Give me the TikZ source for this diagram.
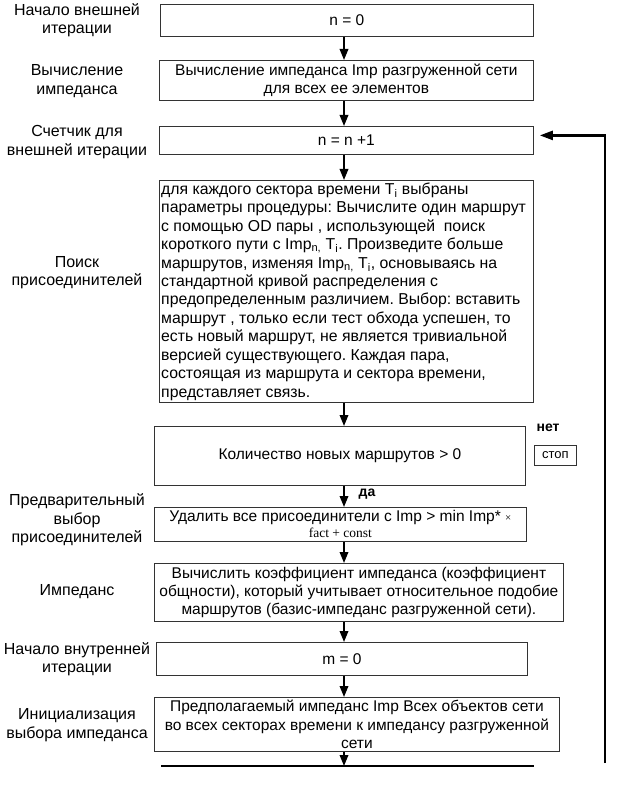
\documentclass[tikz,border=0pt]{standalone}
\usepackage{fontspec}
\setmainfont{Liberation Sans}
\newfontfamily\serifA{Liberation Serif}
\usetikzlibrary{arrows.meta}
\newcommand\myfs{\fontsize{15.5}{18.3}\selectfont\frenchspacing}
\newcommand\mylfs{\fontsize{16}{18.3}\selectfont\frenchspacing}
\begin{document}
\begin{tikzpicture}[x=1pt,y=-1pt,
  box/.style={draw=black!80, line width=0.8pt, inner sep=0pt, anchor=north west, font=\myfs, align=center},
  lbl/.style={align=center, font=\mylfs, inner sep=0pt},
  arr/.style={line width=1.8pt, -{Triangle[length=11pt,width=8.5pt]}},
  thick line/.style={line width=2.6pt},
  yesno/.style={font=\fontsize{14}{16}\selectfont\bfseries, inner sep=0pt}
]
\fill[white] (0,0) rectangle (623,794);
\useasboundingbox (0,0) rectangle (623,794);

% column of arrows
\coordinate (ax) at (344,0);

% boxes
\node[box, minimum width=373pt, minimum height=32pt] (b1) at (160,4) {n = 0};
\node[box, minimum width=374pt, minimum height=40pt] (b2) at (159,60)
  {Вычисление импеданса Imp разгруженной сети\\для всех ее элементов};
\node[box, minimum width=374pt, minimum height=28pt] (b3) at (159,126) {n = n +1};
\node[box, minimum width=374pt, minimum height=222pt] (b4) at (159,180) {};
\node[anchor=north west, inner xsep=2pt, inner ysep=2.5pt, align=left, font=\fontsize{15.8}{18.45}\selectfont\frenchspacing] (b4t) at (b4.north west)
  {для каждого сектора времени T\textsubscript{i} выбраны\\
   параметры процедуры: Вычислите один маршрут\\
   с помощью OD пары , использующей\ \ поиск\\
   короткого пути с Imp\textsubscript{n,} T\textsubscript{i}. Произведите больше\\
   маршрутов, изменяя Imp\textsubscript{n,} T\textsubscript{i}, основываясь на\\
   стандартной кривой распределения с\\
   предопределенным различием. Выбор: вставить\\
   маршрут , только если тест обхода успешен, то\\
   есть новый маршрут, не является тривиальной\\
   версией существующего. Каждая пара,\\
   состоящая из маршрута и сектора времени,\\
   представляет связь.};
\node[box, minimum width=371pt, minimum height=59pt] (b5) at (154,426) {Количество новых маршрутов > 0};
\node[box, minimum width=42pt, minimum height=20pt, font=\fontsize{13}{15}\selectfont] (stop) at (534,445) {стоп};
\node[yesno] (no) at (548,428) {нет};
\node[yesno] (yes) at (367,494) {да};
\node[box, minimum width=372pt, minimum height=34pt, font=\fontsize{15.5}{17}\selectfont] (b6) at (154,507)
  {Удалить все присоединители с Imp > min Imp* {\serifA\fontsize{11}{13}\selectfont ×}\\[-1pt]
   {\serifA\fontsize{13.5}{15}\selectfont fact + const}};
\node[box, minimum width=409pt, minimum height=58pt] (b7) at (154,563)
  {Вычислить коэффициент импеданса (коэффициент\\
   общности), который учитывает относительное подобие\\
   маршрутов (базис-импеданс разгруженной сети).};
\node[box, minimum width=371pt, minimum height=33pt] (b8) at (156,642) {m = 0};
\node[box, minimum width=405pt, minimum height=54pt] (b9) at (154,697)
  {Предполагаемый импеданс Imp Всех объектов сети\\
   во всех секторах времени к импедансу разгруженной\\
   сети};

% labels
\node[lbl] (l1) at (77,20) {Начало внешней\\итерации};
\node[lbl] (l2) at (77,81) {Вычисление\\импеданса};
\node[lbl] (l3) at (77,142) {Счетчик для\\внешней итерации};
\node[lbl] (l4) at (77,273) {Поиск\\присоединителей};
\node[lbl] (l5) at (77,520) {Предварительный\\выбор\\присоединителей};
\node[lbl] (l6) at (77,592) {Импеданс};
\node[lbl] (l7) at (77,659) {Начало внутренней\\итерации};
\node[lbl] (l8) at (77,725) {Инициализация\\выбора импеданса};

% bottom bar and feedback
\coordinate (bl) at (161,766);
\coordinate (br) at (534,766);
\coordinate (fb) at (605,763);
\draw[thick line] (bl) -- (br);

% arrows
\draw[arr] (b1.south -| ax) -- (b2.north -| ax);
\draw[arr] (b2.south -| ax) -- (b3.north -| ax);
\draw[arr] (b3.south -| ax) -- (b4.north -| ax);
\draw[arr] (b4.south -| ax) -- (b5.north -| ax);
\draw[arr] (b5.south -| ax) -- (b6.north -| ax);
\draw[arr] (b6.south -| ax) -- (b7.north -| ax);
\draw[arr] (b7.south -| ax) -- (b8.north -| ax);
\draw[arr] (b8.south -| ax) -- (b9.north -| ax);
\draw[arr] (b9.south -| ax) -- (bl -| ax);

\draw[line width=2.4pt, -{Triangle[length=13pt,width=9pt]}, shorten >=6pt]
  (fb) |- ([yshift=5pt]b3.east);
\end{tikzpicture}
\end{document}
